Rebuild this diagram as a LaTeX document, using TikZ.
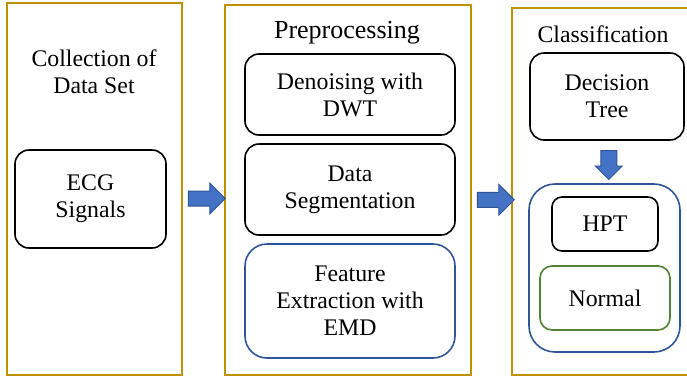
\documentclass[tikz,border=0pt]{standalone}
\usepackage{fontspec}
\setmainfont{Liberation Serif}
\usetikzlibrary{shapes.arrows,calc}
\definecolor{gold}{HTML}{BF9000}
\definecolor{darkblue}{HTML}{2F5597}
\definecolor{arrowfill}{HTML}{4472C4}
\definecolor{darkgreen}{HTML}{548235}
\tikzset{
  panel/.style={draw=gold, line width=2.4pt, rectangle},
  stage/.style={draw, line width=1.6pt, rounded corners=14pt, rectangle, align=center, inner sep=0pt},
  label/.style={align=center, inner sep=0pt},
  blockarr/.style={single arrow, draw=darkblue, fill=arrowfill, line width=1pt, inner xsep=0pt, minimum height=37pt, single arrow head extend=8pt, inner ysep=7pt}
}
\begin{document}
\begin{tikzpicture}[x=1pt, y=-1pt, font=\fontsize{23.8}{27}\selectfont]
\useasboundingbox (0,0) rectangle (687,376);
\clip (0,0) rectangle (687,376);
\fill[white] (0,0) rectangle (687,376);
% panels
\node[panel, minimum width=175pt, minimum height=372pt] (col) at (94.5,189){};
\node[panel, minimum width=246pt, minimum height=370pt] (pre) at (348,190){};
\node[panel, minimum width=220pt, minimum height=367pt] (cls) at (622,191.5){};
\node[label] (coltitle) at (94,72){Collection of\\Data Set};
\node[label, font=\fontsize{26}{30}\selectfont] (pretitle) at (347,33){Preprocessing};
\node[label] (clstitle) at (603,34){Classification};
% stages
\node[stage, minimum width=151pt, minimum height=98pt] (ecg) at (90.5,199){ECG\\Signals};
\node[stage, minimum width=210pt, minimum height=81pt] (dwt) at (350,94.5){Denoising with\\DWT};
\node[stage, minimum width=210pt, minimum height=91pt] (seg) at (350,189.5){Data\\Segmentation};
\node[stage, draw=darkblue, rounded corners=22pt, minimum width=210pt, minimum height=114pt] (emd) at (350,301){Feature\\Extraction with\\EMD};
\node[stage, minimum width=154pt, minimum height=87pt] (tree) at (607,96.5){Decision\\Tree};
\node[stage, draw=darkblue, rounded corners=26pt, minimum width=151pt, minimum height=168pt] (out) at (604.5,268){};
\node[stage, rounded corners=10pt, minimum width=106pt, minimum height=54pt] (hpt) at (605,224){HPT};
\node[stage, draw=darkgreen, rounded corners=12pt, minimum width=130pt, minimum height=64pt] (normal) at (605,298){Normal};
% arrows
\node[blockarr] (arr1) at ($(col.east)!0.5!(pre.west)+(-0.5,9)$){};
\node[blockarr] (arr2) at ($(pre.east)!0.5!(cls.west)+(0.5,9)$){};
\node[blockarr, rotate=-90, minimum height=29pt, inner ysep=7.5pt, single arrow head extend=5.5pt] (arr3) at ($(tree.south)!0.5!(out.north)+(3,-1)$){};
\end{tikzpicture}
\end{document}
